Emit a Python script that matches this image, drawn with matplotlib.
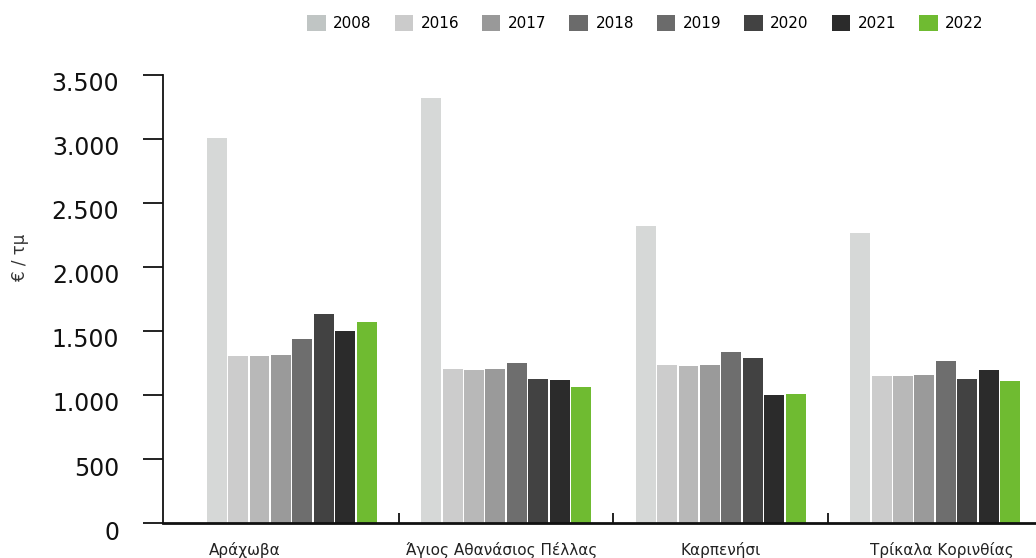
import matplotlib
matplotlib.use("Agg")
import matplotlib.pyplot as plt
import numpy as np
from matplotlib.patches import Patch
from matplotlib.ticker import FuncFormatter, FixedLocator
from matplotlib.transforms import ScaledTranslation

categories = ["Αράχωβα", "Άγιος Αθανάσιος Πέλλας", "Καρπενήσι", "Τρίκαλα Κορινθίας"]
years = ["2008", "2016", "2017", "2018", "2019", "2020", "2021", "2022"]
v2008 = [3010, 3320, 2320, 2268]
v2016 = [1305, 1203, 1234, 1148]
v2017 = [1305, 1195, 1227, 1148]
v2018 = [1312, 1203, 1234, 1156]
v2019 = [1437, 1250, 1336, 1266]
v2020 = [1633, 1125, 1289, 1125]
v2021 = [1500, 1117, 1000, 1195]
v2022 = [1570, 1062, 1008, 1109]
series = [v2008, v2016, v2017, v2018, v2019, v2020, v2021, v2022]

bar_colors = ["#d6d8d7", "#cccccc", "#b8b8b8", "#9a9a9a", "#6e6e6e", "#424242", "#2b2b2b", "#6fbb31"]
legend_colors = ["#c0c5c4", "#cbcbcb", "#999999", "#6b6b6b", "#6b6b6b", "#424242", "#2b2b2b", "#6fbb31"]

plt.rcParams['font.family'] = ['DejaVu Sans']
fig = plt.figure(figsize=(10.36, 5.58), dpi=100)
ax = fig.add_axes([0.1573, 0.0627, 0.8427, 0.803])

x = np.arange(len(categories))
pitch = 0.1
width = 0.093
for k, (vals, c) in enumerate(zip(series, bar_colors)):
    ax.bar(x + (k - 3.5) * pitch, vals, width=width, color=c, linewidth=0, zorder=2)

ax.set_xlim(-0.6, 3.47)
ax.set_ylim(0, 3500)
ax.yaxis.set_major_locator(FixedLocator(np.arange(0, 3501, 500)))
ax.yaxis.set_major_formatter(FuncFormatter(lambda v, p: f"{int(v):,}".replace(",", ".")))

ax.set_xticks([0.5, 1.5, 2.5])
ax.set_xticklabels([])
label_pos = x + np.array([-0.22, -0.02, 0.0, 0.03])
ax.set_xticks(label_pos, minor=True)
ax.set_xticklabels(categories, minor=True, fontsize=11, color="#222222")
ax.tick_params(axis='x', which='major', direction='in', length=7, width=1.3, color="#111111")
ax.tick_params(axis='x', which='minor', length=0, pad=14)
ax.tick_params(axis='y', direction='out', length=14.4, width=1.3, labelsize=17, pad=17,
               color="#111111", labelcolor="#111111")

off = ScaledTranslation(0, -7 / 100, fig.dpi_scale_trans)
for lab in ax.get_yticklabels():
    lab.set_transform(lab.get_transform() + off)

for s in ['top', 'right']:
    ax.spines[s].set_visible(False)
ax.spines['left'].set_linewidth(1.3)
ax.spines['bottom'].set_linewidth(2)
ax.spines['left'].set_color("#111111")
ax.spines['bottom'].set_color("#111111")

fig.text(0.019, 0.538, "€ / τμ", rotation=90, fontsize=12, color="#333333", ha='center', va='center')

handles = [Patch(facecolor=c, edgecolor='none') for c in legend_colors]
fig.legend(handles, years, loc='center', bbox_to_anchor=(0.623, 0.959), ncol=8, frameon=False,
           fontsize=11, handlelength=1.2, handleheight=1.2, handletextpad=0.5, columnspacing=1.5)

fig.savefig("out.png", dpi=100)
